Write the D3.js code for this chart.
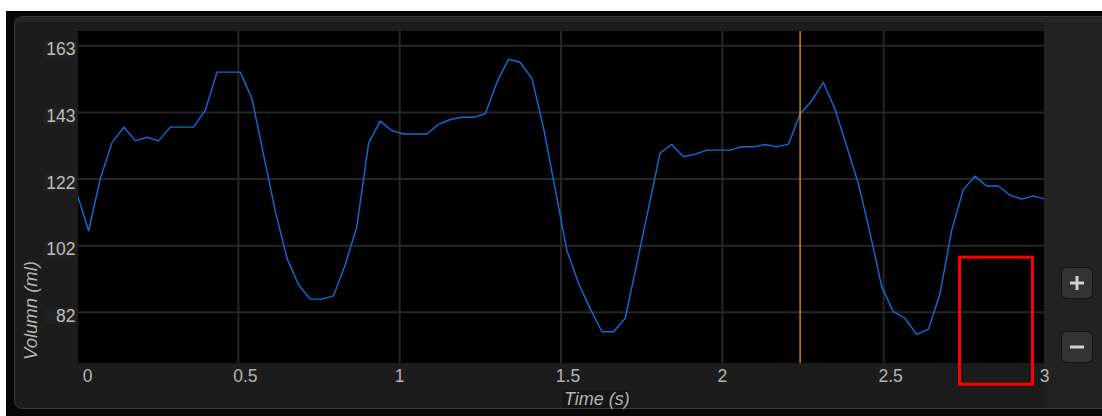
<!DOCTYPE html>
<html>
<head>
<meta charset="utf-8">
<script src="https://cdn.jsdelivr.net/npm/d3@7"></script>
<style>
  body { margin: 0; background: #fff; }
  svg { display: block; font-family: "Liberation Sans", Arial, sans-serif; }
</style>
</head>
<body>
<script>
// sample times (s) and volume (ml)
const timeValues = [0, 0.036, 0.072, 0.108, 0.145, 0.181, 0.217, 0.253, 0.289, 0.325,
  0.361, 0.398, 0.434, 0.47, 0.506, 0.542, 0.578, 0.614, 0.651, 0.687,
  0.723, 0.759, 0.795, 0.831, 0.867, 0.904, 0.94, 0.976, 1.012, 1.048,
  1.084, 1.12, 1.157, 1.193, 1.229, 1.265, 1.301, 1.337, 1.373, 1.41,
  1.446, 1.482, 1.518, 1.554, 1.59, 1.627, 1.663, 1.699, 1.735, 1.771,
  1.807, 1.843, 1.88, 1.916, 1.952, 1.988, 2.024, 2.06, 2.096, 2.133,
  2.169, 2.205, 2.241, 2.277, 2.313, 2.349, 2.386, 2.422, 2.458, 2.494,
  2.53, 2.566, 2.602, 2.639, 2.675, 2.711, 2.747, 2.783, 2.819, 2.855,
  2.892, 2.928, 2.964, 3.0];
const volumeValues = [118, 106.8, 122.5, 133.5, 138.3, 134.1, 135.2, 134.1, 138.3, 138.3,
  138.3, 143.5, 155, 155, 155, 147, 130, 113, 98.4, 90.3,
  86, 86, 87, 96.4, 107.9, 133.5, 140.1, 137.2, 136.2, 136.2,
  136.2, 139.1, 140.6, 141.3, 141.3, 142.3, 151.8, 158.9, 158, 153.1,
  138, 119.5, 100.9, 90.9, 83.2, 76.1, 76.1, 80.2, 96.8, 113.5,
  130.4, 133, 129.3, 130.1, 131.3, 131.3, 131.3, 132.3, 132.3, 133,
  132.3, 133.1, 142.3, 146.3, 151.9, 143.8, 132.3, 121, 106, 89.8,
  82.2, 80.2, 75.3, 76.9, 87.8, 107, 119.3, 123.4, 120.4, 120.4,
  117.6, 116.4, 117.4, 116.4];

const xTickValues = [0, 0.5, 1, 1.5, 2, 2.5, 3];
const yTickValues = [82, 102.25, 122.5, 142.75, 163];
const yTickLabels = ["82", "102", "122", "143", "163"];
const cursorTime = 2.241;
const xTitle = "Time (s)";
const yTitle = "Volumn (ml)";

const width = 1102, height = 416;
const plot = { left: 78, top: 31, right: 1044, bottom: 363 };

const svg = d3.select("body").append("svg")
  .attr("width", width)
  .attr("height", height);

// frame
svg.append("rect").attr("x", 6).attr("y", 11).attr("width", width).attr("height", height)
  .attr("fill", "#060606");
svg.append("rect").attr("x", 14.5).attr("y", 16.5).attr("width", width).attr("height", 392)
  .attr("rx", 8).attr("fill", "#1c1c1c").attr("stroke", "#3a3a3a");
svg.append("rect").attr("x", 15).attr("y", 18).attr("width", width).attr("height", 4)
  .attr("fill", "#262626");
svg.append("rect").attr("x", plot.right).attr("y", 22).attr("width", width - plot.right).attr("height", 386)
  .attr("fill", "#222");

const x = d3.scaleLinear().domain([0, 3]).range([77, 1045]);
const y = d3.scaleLinear().domain([66.6, 167.5]).range([plot.bottom, plot.top]);

svg.append("rect")
  .attr("x", plot.left).attr("y", plot.top)
  .attr("width", plot.right - plot.left).attr("height", plot.bottom - plot.top)
  .attr("fill", "#000");

svg.append("clipPath").attr("id", "clip")
  .append("rect")
  .attr("x", plot.left).attr("y", plot.top)
  .attr("width", plot.right - plot.left).attr("height", plot.bottom - plot.top);

const grid = svg.append("g").attr("clip-path", "url(#clip)");
grid.selectAll("line.h").data(yTickValues).join("line")
  .attr("x1", plot.left).attr("x2", plot.right)
  .attr("y1", d => y(d)).attr("y2", d => y(d))
  .attr("stroke", "#262626").attr("stroke-width", 2);
grid.selectAll("line.v").data(xTickValues.slice(1, -1)).join("line")
  .attr("x1", d => x(d)).attr("x2", d => x(d))
  .attr("y1", plot.top).attr("y2", plot.bottom)
  .attr("stroke", "#262626").attr("stroke-width", 2);

// y labels
const yl = svg.append("g");
yl.selectAll("rect").data(yTickValues).join("rect")
  .attr("x", 44).attr("y", d => y(d) - 5).attr("width", 33).attr("height", 17)
  .attr("fill", "#212121");
yl.selectAll("text").data(yTickValues).join("text")
  .attr("x", 75.5).attr("y", d => y(d) + 9.5)
  .attr("text-anchor", "end")
  .attr("font-size", 17.5)
  .attr("fill", "#bdbdbd")
  .text((d, i) => yTickLabels[i]);

// x labels
svg.append("g").selectAll("text").data(xTickValues).join("text")
  .attr("x", d => {
    const label = String(d);
    let px = x(d) + (label.includes(".") ? 7 : 0);
    return Math.min(Math.max(px, 87.5), 1044.5);
  })
  .attr("y", 382)
  .attr("text-anchor", "middle")
  .attr("font-size", 17.5)
  .attr("fill", "#b4b4b4")
  .text(d => String(d));

// titles
svg.append("rect").attr("x", 562).attr("y", 390).attr("width", 68).attr("height", 18)
  .attr("fill", "#151515");
svg.append("text")
  .attr("x", 564).attr("y", 405)
  .attr("font-size", 18).attr("font-style", "italic")
  .attr("fill", "#b4b4b4")
  .text(xTitle);
svg.append("text")
  .attr("transform", "translate(37,360) rotate(-90)")
  .attr("font-size", 18.5).attr("font-style", "italic")
  .attr("fill", "#b4b4b4")
  .text(yTitle);

// series
const line = d3.line()
  .x((d, i) => x(timeValues[i]))
  .y(d => y(d));
svg.append("g").attr("clip-path", "url(#clip)")
  .append("path")
  .datum(volumeValues)
  .attr("d", line)
  .attr("fill", "none")
  .attr("stroke", "#0a6fdc")
  .attr("stroke-width", 1.4)
  .attr("stroke-linejoin", "round");

// cursor
svg.append("line")
  .attr("x1", x(cursorTime)).attr("x2", x(cursorTime))
  .attr("y1", plot.top).attr("y2", plot.bottom)
  .attr("stroke", "#ffa500").attr("stroke-width", 1.2);

// zoom buttons
const buttons = [{ label: "+", y: 268 }, { label: "-", y: 332 }];
const btn = svg.append("g").selectAll("g").data(buttons).join("g")
  .attr("transform", d => `translate(1062,${d.y})`);
btn.append("rect").attr("x", -1).attr("y", -1).attr("width", 32).attr("height", 32).attr("rx", 6)
  .attr("fill", "#141414");
btn.append("rect").attr("width", 30).attr("height", 30).attr("rx", 5)
  .attr("fill", "#333");
btn.append("line").attr("x1", 8).attr("x2", 22).attr("y1", 15).attr("y2", 15)
  .attr("stroke", "#d0d0d0").attr("stroke-width", 3);
btn.filter(d => d.label === "+").append("line")
  .attr("x1", 15).attr("x2", 15).attr("y1", 8).attr("y2", 22)
  .attr("stroke", "#d0d0d0").attr("stroke-width", 3);

// highlight box
svg.append("rect")
  .attr("x", 959.5).attr("y", 257.2).attr("width", 73).attr("height", 127)
  .attr("fill", "none").attr("stroke", "#ff0000").attr("stroke-width", 3);
</script>
</body>
</html>
